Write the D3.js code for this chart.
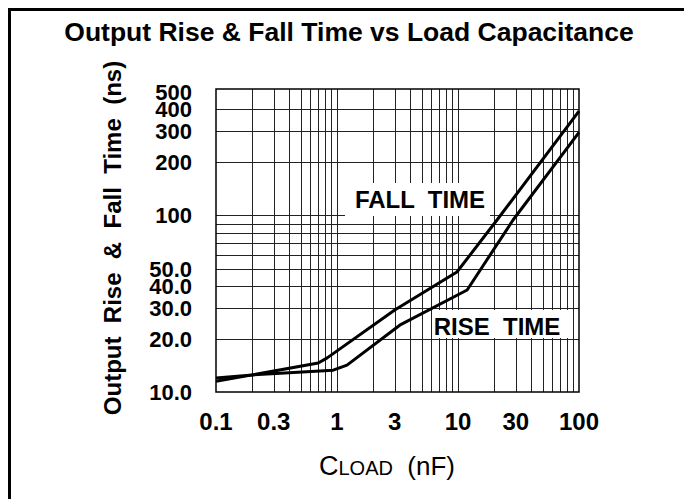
<!DOCTYPE html>
<html>
<head>
<meta charset="utf-8">
<script src="https://cdn.jsdelivr.net/npm/d3@7"></script>
<style>
body{margin:0;background:#fff;}
svg{display:block;font-family:"Liberation Sans",Arial,Helvetica,sans-serif;}
</style>
</head>
<body>
<svg id="chart" width="684" height="499"></svg>
<script>
// values
var xTicks=[0.1,0.3,1,3,10,30,100];
var xTickLabels=["0.1","0.3","1","3","10","30","100"];
var yTicks=[10,20,30,40,50,100,200,300,400,500];
var yTickLabels=["10.0","20.0","30.0","40.0","50.0","100","200","300","400","500"];

var fallLoad=[0.1,0.2,0.7,0.83,3,9.8,21,100];
var fallTime=[11.5,12.5,14.6,15.6,29.1,47.8,94.2,390];
var riseLoad=[0.1,0.2,0.93,1.21,3.3,11.9,28.5,100];
var riseTime=[12.0,12.5,13.3,14.2,23.9,37.8,94.2,295];

var svg=d3.select("#chart");
var plotL=216,plotR=579,plotT=89,plotB=392;

var x=d3.scaleLog().domain([0.1,100]).range([plotL,plotR]);
var y=d3.scaleLog().domain([10,520]).range([plotB,plotT]);

//outer frame, only top and left show in the crop
svg.append("path")
	.attr("d","M9.5,499V9.5H684")
	.attr("fill","none")
	.attr("stroke","#000")
	.attr("stroke-width",3);

svg.append("text")
	.attr("x",349).attr("y",41)
	.attr("text-anchor","middle")
	.attr("font-size",26.5).attr("font-weight","bold")
	.text("Output Rise & Fall Time vs Load Capacitance");

//grid
var g=svg.append("g");
g.selectAll("line.vx").data(x.ticks().filter(function(d){return d>0.1&&d<100;}))
	.enter().append("line").attr("class","vx")
	.attr("x1",function(d){return Math.round(x(d))+0.5;})
	.attr("x2",function(d){return Math.round(x(d))+0.5;})
	.attr("y1",plotT).attr("y2",plotB)
	.attr("stroke","#222").attr("stroke-width",1);
g.selectAll("line.hy").data(y.ticks().filter(function(d){return d>10&&d<500;}))
	.enter().append("line").attr("class","hy")
	.attr("y1",function(d){return Math.round(y(d))+0.5;})
	.attr("y2",function(d){return Math.round(y(d))+0.5;})
	.attr("x1",plotL).attr("x2",plotR)
	.attr("stroke","#222").attr("stroke-width",1);
g.append("rect")
	.attr("x",plotL).attr("y",plotT)
	.attr("width",plotR-plotL).attr("height",plotB-plotT)
	.attr("fill","none").attr("stroke","#000").attr("stroke-width",1.5);

//tick labels
svg.append("g").selectAll("text").data(xTicks)
	.enter().append("text")
	.attr("x",function(d){return x(d);})
	.attr("y",430)
	.attr("text-anchor","middle")
	.attr("font-size",24).attr("font-weight","bold")
	.text(function(d,i){return xTickLabels[i];});
svg.append("g").selectAll("text").data(yTicks)
	.enter().append("text")
	.attr("x",192)
	.attr("y",function(d){return y(d)+8;})
	.attr("text-anchor","end")
	.attr("font-size",22).attr("font-weight","bold")
	.text(function(d,i){return yTickLabels[i];});

//axis titles
svg.append("text")
	.attr("transform","translate(121,238) rotate(-90)")
	.attr("text-anchor","middle")
	.attr("font-size",24).attr("font-weight","bold")
	.attr("xml:space","preserve")
	.text("Output  Rise  &  Fall  Time  (ns)");
var xt=svg.append("text")
	.attr("x",387).attr("y",475)
	.attr("text-anchor","middle")
	.attr("font-size",26)
	.attr("xml:space","preserve");
xt.append("tspan").attr("font-size",27).text("C");
xt.append("tspan").attr("font-size",20).text("LOAD");
xt.append("tspan").text("  (nF)");

//curve labels sit on white patches over the grid
svg.append("rect").attr("x",345).attr("y",183).attr("width",145).attr("height",33).attr("fill","#fff");
svg.append("text")
	.attr("x",420).attr("y",208)
	.attr("text-anchor","middle")
	.attr("font-size",24).attr("font-weight","bold")
	.attr("xml:space","preserve")
	.text("FALL  TIME");
svg.append("rect").attr("x",433).attr("y",310).attr("width",138).attr("height",28).attr("fill","#fff");
svg.append("text")
	.attr("x",497).attr("y",335)
	.attr("text-anchor","middle")
	.attr("font-size",24).attr("font-weight","bold")
	.attr("xml:space","preserve")
	.text("RISE  TIME");

//curves
var line=d3.line()
	.x(function(d){return x(d[0]);})
	.y(function(d){return y(d[1]);});
svg.append("path")
	.datum(d3.zip(fallLoad,fallTime))
	.attr("d",line)
	.attr("fill","none").attr("stroke","#000").attr("stroke-width",3)
	.attr("stroke-linejoin","round");
svg.append("path")
	.datum(d3.zip(riseLoad,riseTime))
	.attr("d",line)
	.attr("fill","none").attr("stroke","#000").attr("stroke-width",3)
	.attr("stroke-linejoin","round");
</script>
</body>
</html>
